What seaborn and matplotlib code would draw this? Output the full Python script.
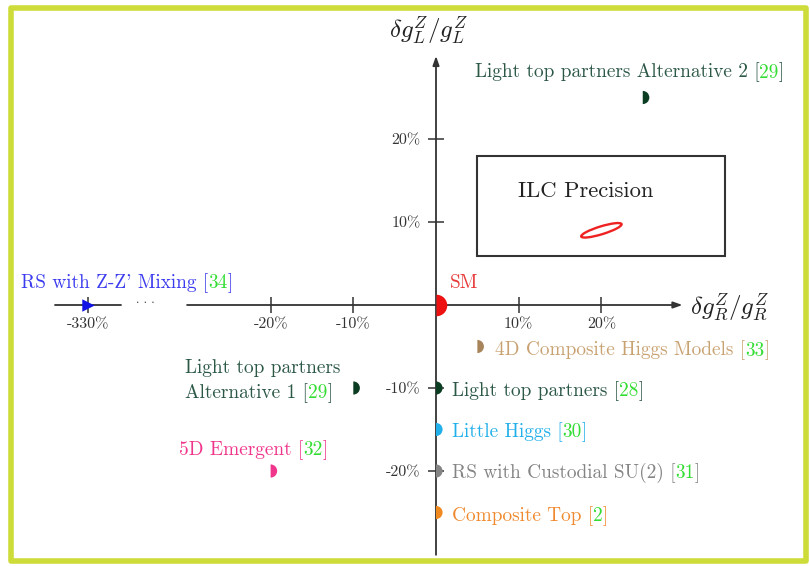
import matplotlib
matplotlib.use("Agg")
import matplotlib.pyplot as plt
import seaborn as sns
import pandas as pd
from matplotlib.markers import MarkerStyle
from matplotlib.patches import Rectangle, Ellipse
from matplotlib.transforms import offset_copy

# ---------------- data ----------------
models = ["RS with Z-Z' Mixing", "Light top partners Alternative 2",
          "Light top partners\nAlternative 1", "5D Emergent",
          "4D Composite Higgs Models", "Light top partners", "Little Higgs",
          "RS with Custodial SU(2)", "Composite Top"]
refs = ["34", "29", "29", "32", "33", "28", "30", "31", "2"]
dgR = [-330, 25, -10, -20, 5, 0, 0, 0, 0]      # delta g_R / g_R in %
dgL = [0, 25, -10, -20, -5, -10, -15, -20, -25]  # delta g_L / g_L in %
text_colors = ["#3b3bef", "#2c5846", "#2c5846", "#f0358c", "#c9a272",
               "#2c5846", "#22b0ea", "#848484", "#f08a30"]
marker_colors = ["#1212e6", "#0b3d22", "#0b3d22", "#f0358c", "#a8845a",
                 "#0b3d22", "#22b0ea", "#848484", "#f08a1e"]
ref_color = "#33dd33"

sm_label = "SM"
sm_point = ([0], [0])
ilc_label = "ILC Precision"
ilc_center = (20, 9)
ilc_size = (5.1, 0.95)
ilc_angle = 17

xtick_vals = [-330, -20, -10, 10, 20]
ytick_vals = [-20, -10, 10, 20]

# --------------- style ----------------
sns.set_theme(style="white")
plt.rcParams["font.family"] = ["cmr10"]
plt.rcParams["mathtext.fontset"] = "cm"
plt.rcParams["axes.unicode_minus"] = False
plt.rcParams["axes.formatter.use_mathtext"] = True

PX_X, PX_Y = 8.27, 8.3
AX_C = "#333333"


def brk(v):
    """broken x axis: values beyond -30% are compressed near the left edge"""
    return v if v >= -30 else -42.1 + (v + 330) * 0.05


fig = plt.figure(figsize=(8.10, 5.66), dpi=100)
ax = fig.add_axes([0, 0, 1, 1])
ax.set_xlim(-436 / PX_X, (810 - 436) / PX_X)
ax.set_ylim(-(566 - 305) / PX_Y, 305 / PX_Y)
ax.set_facecolor("white")

# axes through origin
for s in ["top", "right", "left", "bottom"]:
    ax.spines[s].set_visible(False)
ax.spines["left"].set_position(("data", 0))
ax.spines["bottom"].set_position(("data", 0))
arrow = dict(arrowstyle="-|>,head_length=0.45,head_width=0.16", color=AX_C,
             lw=1.3, shrinkA=0, shrinkB=0)
ax.annotate("", xy=(29.8, 0), xytext=(-30.1, 0), arrowprops=arrow)
ax.annotate("", xy=(0, 30.0), xytext=(0, -30.1), arrowprops=arrow)
ax.plot([brk(-330) - 4.0, brk(-330) + 4.0], [0, 0], color=AX_C, lw=1.3)
ax.text(brk(-330) + 6.9, 0.25, ". . .", ha="center", va="baseline",
        fontsize=9, color=AX_C)

ax.set_xticks([brk(v) for v in xtick_vals], [f"{v}%" for v in xtick_vals])
ax.set_yticks(ytick_vals, [f"{v}%" for v in ytick_vals])
ax.tick_params(axis="both", direction="inout", length=11.5, width=1.1,
               color=AX_C, labelcolor=AX_C, labelsize=11.5,
               bottom=True, left=True)
ax.tick_params(axis="x", pad=3.5)
ax.tick_params(axis="y", pad=5.5)
ax.grid(False)

# axis titles
ax.text(30.7, -0.3, r"$\delta g^Z_R/g^Z_R$", fontsize=18, ha="left",
        va="center", color="#222222")
ax.text(-0.9, 33.0, r"$\delta g^Z_L/g^Z_L$", fontsize=18, ha="center",
        va="center", color="#222222")

# ILC box
ax.add_patch(Rectangle((4.9, 5.9), 30.1, 12.1, fill=False, ec=AX_C, lw=1.5))
ax.text(18.1, 13.65, ilc_label, fontsize=16.3, ha="center", va="center",
        color="#222222")
ax.add_patch(Ellipse(ilc_center, ilc_size[0], ilc_size[1], angle=ilc_angle,
                     fill=False, ec="#ee2222", lw=1.7))

# markers
df = pd.DataFrame({"model": models, "x": [brk(v) for v in dgR], "y": dgL,
                   "ref": refs})
half = MarkerStyle("o", fillstyle="right")
pal = dict(zip(models, marker_colors))
sns.scatterplot(data=df.iloc[1:], x="x", y="y", hue="model", palette=pal,
                marker=half, s=90, linewidth=0, legend=False, ax=ax, zorder=5)
sns.scatterplot(data=df.iloc[:1], x="x", y="y", hue="model", palette=pal,
                marker=">", s=80, linewidth=0, legend=False, ax=ax, zorder=5)
sns.scatterplot(x=sm_point[0], y=sm_point[1], color="#ee1111", marker=half,
                s=240, linewidth=0, legend=False, ax=ax, zorder=6)
ax.set_xlabel("")
ax.set_ylabel("")

# labels (multi-coloured text)
renderer = fig.canvas.get_renderer()
FS = 13.9


def rainbow(x, y, dx, dy, pieces):
    off = 0.0
    for s, c in pieces:
        tr = offset_copy(ax.transData, fig=fig, x=dx + off, y=dy, units="dots")
        t = ax.text(x, y, s, color=c, transform=tr, ha="left",
                    va="baseline", fontsize=FS)
        off += t.get_window_extent(renderer).width


label_dx = [-67, -168, -168, -92, 18, 16, 16, 16, 16]
label_dy = [17, 20, 15, 16, -9, -8, -7.5, -7, -8.5]
LINE = 25
for i, name in enumerate(models):
    lines = name.split("\n")
    x, y = brk(dgR[i]), dgL[i]
    for j, ln in enumerate(lines):
        dy = label_dy[i] - j * LINE
        if j < len(lines) - 1:
            rainbow(x, y, label_dx[i], dy, [(ln, text_colors[i])])
        else:
            rainbow(x, y, label_dx[i], dy,
                    [(ln + " [", text_colors[i]), (refs[i], ref_color),
                     ("]", text_colors[i])])

rainbow(sm_point[0][0], sm_point[1][0], 14, 17, [(sm_label, "#e83a3a")])

# outer frame
fig.add_artist(Rectangle((11 / 810, 1 - 561 / 566), (806 - 11) / 810,
                         (561 - 7.5) / 566, transform=fig.transFigure,
                         fill=False, ec="#cddc39", lw=4.0, joinstyle="round"))

fig.savefig("out.png", dpi=100, facecolor="white")
